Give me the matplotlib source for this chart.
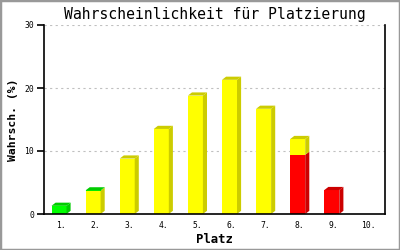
import matplotlib.pyplot as plt
from matplotlib.patches import Polygon, Rectangle
import numpy as np

# Platz 1..10, stacked: red (bottom), yellow, green (top)
labels = ['1.', '2.', '3.', '4.', '5.', '6.', '7.', '8.', '9.', '10.']
red = [0, 0, 0, 0, 0, 0, 0, 9.4, 3.8, 0]
yellow = [0, 3.7, 8.8, 13.5, 18.8, 21.3, 16.7, 2.5, 0, 0]
green = [1.3, 0.05, 0, 0, 0, 0, 0, 0, 0, 0]

series = [(red, '#ff0000', '#cc0000'),
          (yellow, '#ffff00', '#cccc00'),
          (green, '#00ff00', '#00cc00')]

fig = plt.figure(figsize=(4, 2.5), dpi=100)
ax = fig.add_axes([0.11, 0.144, 0.8525, 0.756])

x = np.arange(1, 11)
w = 0.44
dx = 0.12
dy = 0.5

bottom = np.zeros(10)
tops = [None] * 10
for vals, front, dark in series:
    vals = np.array(vals, dtype=float)
    for i in range(10):
        if vals[i] <= 0:
            continue
        y0, y1 = bottom[i], bottom[i] + vals[i]
        xc = x[i] - dx / 2
        ax.add_patch(Rectangle((xc - w / 2, y0), w, vals[i], facecolor=front,
                               edgecolor='none', zorder=3))
        ax.add_patch(Polygon([(xc + w / 2, y0), (xc + w / 2 + dx, y0 + dy),
                              (xc + w / 2 + dx, y1 + dy), (xc + w / 2, y1)],
                             closed=True, facecolor=dark, edgecolor='none', zorder=3))
        tops[i] = (xc, y1, dark)
    bottom += vals

for t in tops:
    if t is None:
        continue
    xc, y1, dark = t
    ax.add_patch(Polygon([(xc - w / 2, y1), (xc - w / 2 + dx, y1 + dy),
                          (xc + w / 2 + dx, y1 + dy), (xc + w / 2, y1)],
                         closed=True, facecolor=dark, edgecolor='none', zorder=3))

ax.set_xlim(0.5, 10.5)
ax.set_ylim(0, 30)
ax.set_yticks([0, 10, 20, 30])
ax.set_xticks(x)
ax.set_xticklabels(labels)
mono = 'DejaVu Sans Mono'
for lab in ax.get_xticklabels() + ax.get_yticklabels():
    lab.set_fontfamily(mono)
    lab.set_fontsize(5.8)
ax.tick_params(axis='x', length=0, pad=5)
ax.tick_params(axis='y', length=5, width=1.2, pad=2)

ax.grid(axis='y', color='#c0c0c0', linestyle=(0, (2, 3)), linewidth=0.8, zorder=0)
ax.spines['top'].set_visible(False)
for s in ['left', 'right', 'bottom']:
    ax.spines[s].set_linewidth(1.2)
ax.spines['bottom'].set_zorder(4)

ax.set_title('Wahrscheinlichkeit für Platzierung', fontfamily=mono,
             fontsize=10.6, pad=4)
ax.set_ylabel('Wahrsch. (%)', fontfamily=mono, fontweight='bold', fontsize=8.2,
              labelpad=5)
ax.set_xlabel('Platz', fontfamily=mono, fontweight='bold', fontsize=8.8,
              labelpad=2)

fig.patches.append(Rectangle((0, 0), 1, 1, transform=fig.transFigure,
                             fill=False, edgecolor='#999999', linewidth=2.5))

fig.savefig('out.png', dpi=100)
